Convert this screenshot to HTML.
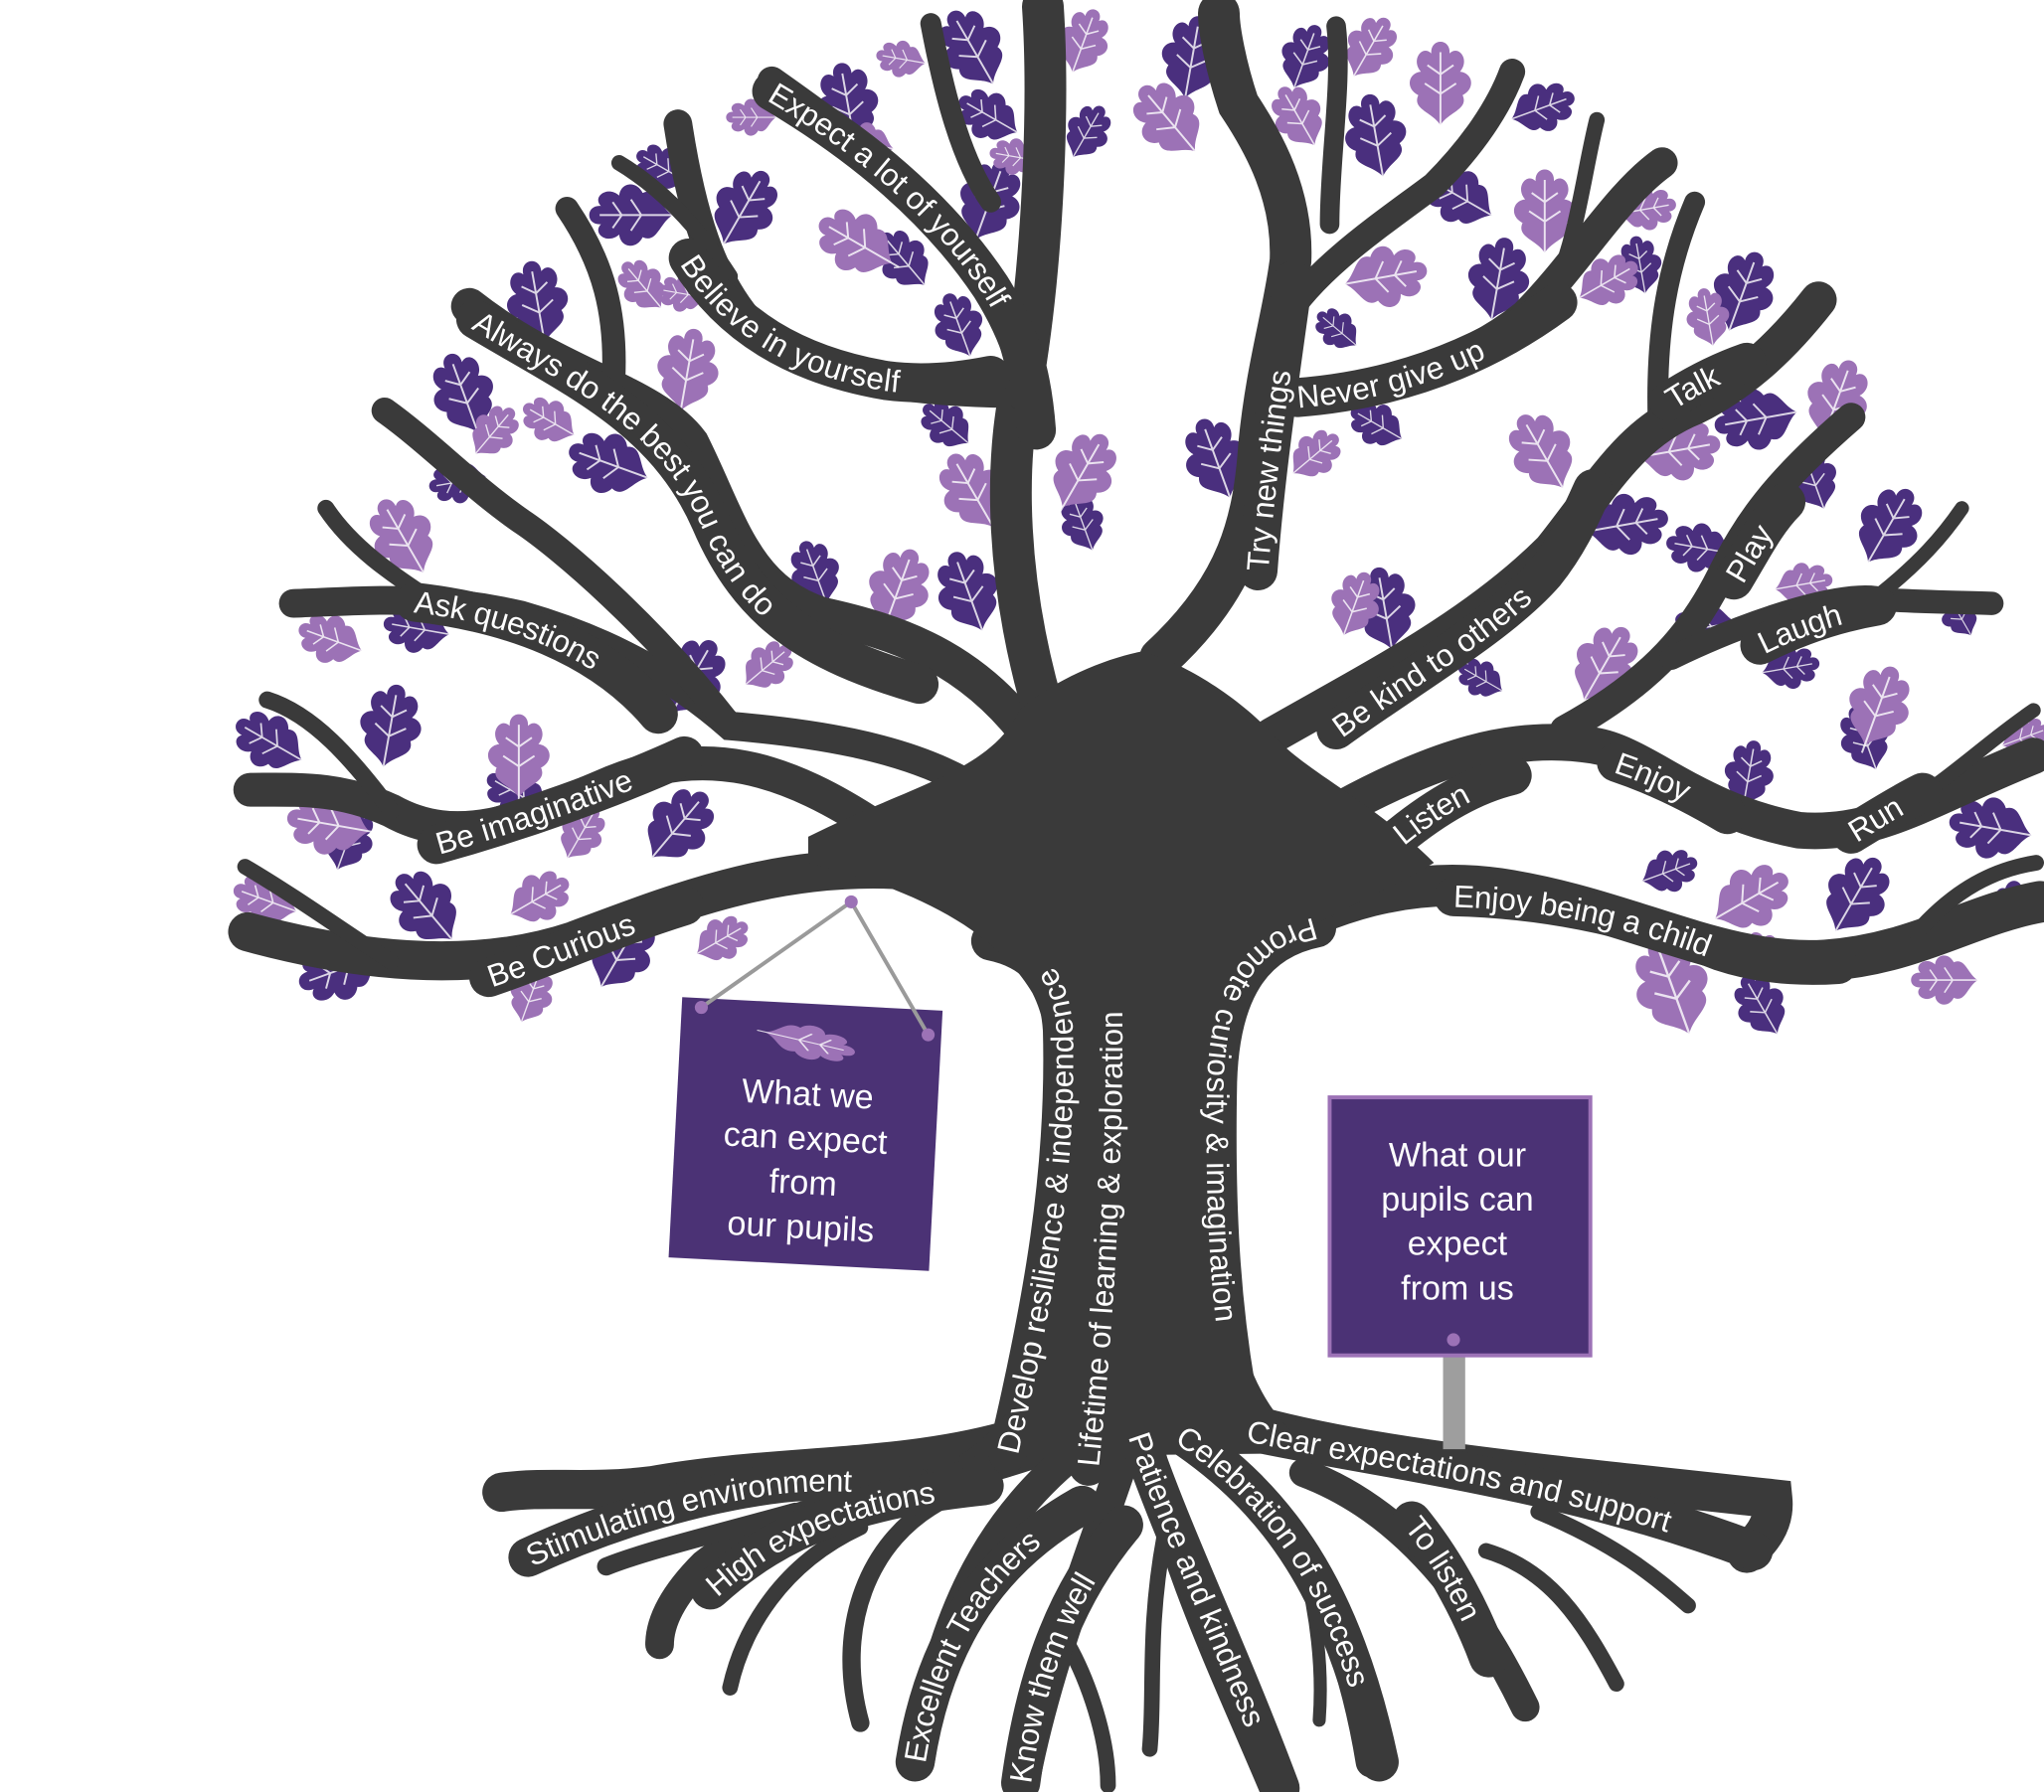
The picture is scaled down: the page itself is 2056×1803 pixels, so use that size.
<!DOCTYPE html>
<html><head><meta charset="utf-8"><style>
html,body{margin:0;padding:0;background:#fff;}
svg{display:block;}
.t{font-family:"Liberation Sans",sans-serif;font-size:24px;fill:#fff;}
.s{font-family:"Liberation Sans",sans-serif;font-size:26px;fill:#fff;text-anchor:middle;}
</style></head><body>
<svg width="2056" height="1803" viewBox="0 0 1568 1375" xmlns="http://www.w3.org/2000/svg">
<defs>
<symbol id="lf" viewBox="-30 -40 60 80" overflow="visible">
<path d="M0,34 C-6,24 -22,22 -17,11 C-27,6 -25,-6 -15,-7 C-23,-16 -14,-28 -7,-21 C-8,-33 8,-33 7,-21 C14,-28 23,-16 15,-7 C25,-6 27,6 17,11 C22,22 6,24 0,34 Z"/>
<path d="M0,40 L0,-22 M0,10 L-12,2 M0,10 L12,2 M0,-5 L-10,-12 M0,-5 L10,-12" stroke="#fff" stroke-width="1.5" fill="none" opacity="0.8"/>
</symbol>
<path id="p1" d="M375,750 C420,735 470,712 525,695"/>
<path id="p2" d="M335,648 C400,630 470,605 525,580"/>
<path id="p3" d="M318,462 C390,470 460,495 505,548"/>
<path id="p4" d="M365,245 C440,290 510,320 545,400 C575,470 620,500 705,525"/>
<path id="p5" d="M528,198 C560,250 610,280 680,292 C710,296 740,292 760,288"/>
<path id="p6" d="M592,70 C660,110 720,160 760,220 C785,260 792,290 795,330"/>
<path id="p7" d="M965,438 C970,370 980,300 992,215"/>
<path id="p8" d="M995,305 C1060,300 1130,280 1195,232"/>
<path id="p9" d="M1280,308 C1300,295 1320,285 1340,278"/>
<path id="p10" d="M1025,560 C1080,520 1150,480 1185,440 C1205,415 1215,390 1222,375"/>
<path id="p11" d="M1330,445 C1345,420 1355,400 1370,385"/>
<path id="p12" d="M1350,495 C1380,480 1410,470 1440,465"/>
<path id="p13" d="M1072,643 C1100,620 1130,602 1160,595"/>
<path id="p14" d="M1240,585 C1270,595 1300,610 1325,625"/>
<path id="p15" d="M1420,640 C1440,628 1455,618 1475,608"/>
<path id="p16" d="M1115,688 C1200,690 1270,710 1320,730 C1350,740 1380,742 1410,740"/>
<path id="p17" d="M773,1115 C800,1000 818,900 815,790 C812,745 790,728 760,722"/>
<path id="p18" d="M835,1125 C848,1000 856,850 852,725"/>
<path id="p19" d="M1010,712 C960,722 936,762 934,830 C932,930 937,1000 948,1065"/>
<path id="p20" d="M405,1195 C470,1165 540,1145 600,1138 C640,1134 670,1138 700,1140"/>
<path id="p21" d="M545,1220 C600,1170 660,1150 755,1140"/>
<path id="p22" d="M702,1352 C715,1270 750,1200 830,1155"/>
<path id="p23" d="M783,1368 C795,1280 820,1220 862,1170"/>
<path id="p24" d="M873,1100 C900,1180 940,1260 982,1372"/>
<path id="p25" d="M905,1100 C980,1150 1030,1220 1058,1352"/>
<path id="p26" d="M957,1098 C1060,1120 1200,1135 1345,1190"/>
<path id="p27" d="M1083,1167 C1110,1200 1130,1240 1142,1272"/>
</defs>
<rect width="1568" height="1375" fill="#fff"/>

<!-- Leaves behind -->
<g>
<g fill="#4a2f7e">
<use href="#lf" x="-30" y="-40" width="60" height="80" transform="translate(205,568) rotate(-60) scale(0.9)"/>
<use href="#lf" x="-30" y="-40" width="60" height="80" transform="translate(300,555) rotate(10)"/>
<use href="#lf" x="-30" y="-40" width="60" height="80" transform="translate(268,642) rotate(20) scale(0.8)"/>
<use href="#lf" x="-30" y="-40" width="60" height="80" transform="translate(395,608) rotate(-60) scale(0.8)"/>
<use href="#lf" x="-30" y="-40" width="60" height="80" transform="translate(522,632) rotate(40)"/>
<use href="#lf" x="-30" y="-40" width="60" height="80" transform="translate(258,745) rotate(-110)"/>
<use href="#lf" x="-30" y="-40" width="60" height="80" transform="translate(325,695) rotate(-40)"/>
<use href="#lf" x="-30" y="-40" width="60" height="80" transform="translate(478,728) rotate(30)"/>
<use href="#lf" x="-30" y="-40" width="60" height="80" transform="translate(318,482) rotate(-80) scale(0.8)"/>
<use href="#lf" x="-30" y="-40" width="60" height="80" transform="translate(350,370) rotate(-100) scale(0.7)"/>
<use href="#lf" x="-30" y="-40" width="60" height="80" transform="translate(355,300) rotate(-20)"/>
<use href="#lf" x="-30" y="-40" width="60" height="80" transform="translate(465,355) rotate(-70)"/>
<use href="#lf" x="-30" y="-40" width="60" height="80" transform="translate(412,230) rotate(-10)"/>
<use href="#lf" x="-30" y="-40" width="60" height="80" transform="translate(532,518) rotate(30)"/>
<use href="#lf" x="-30" y="-40" width="60" height="80" transform="translate(625,438) rotate(-20) scale(0.8)"/>
<use href="#lf" x="-30" y="-40" width="60" height="80" transform="translate(742,452) rotate(-20)"/>
<use href="#lf" x="-30" y="-40" width="60" height="80" transform="translate(830,400) rotate(-20) scale(0.7)"/>
<use href="#lf" x="-30" y="-40" width="60" height="80" transform="translate(482,165) rotate(-90)"/>
<use href="#lf" x="-30" y="-40" width="60" height="80" transform="translate(572,158) rotate(30)"/>
<use href="#lf" x="-30" y="-40" width="60" height="80" transform="translate(692,198) rotate(-40) scale(0.8)"/>
<use href="#lf" x="-30" y="-40" width="60" height="80" transform="translate(745,35) rotate(-30)"/>
<use href="#lf" x="-30" y="-40" width="60" height="80" transform="translate(757,88) rotate(-60) scale(0.8)"/>
<use href="#lf" x="-30" y="-40" width="60" height="80" transform="translate(735,248) rotate(-20) scale(0.8)"/>
<use href="#lf" x="-30" y="-40" width="60" height="80" transform="translate(725,325) rotate(-50) scale(0.7)"/>
<use href="#lf" x="-30" y="-40" width="60" height="80" transform="translate(760,152) rotate(20)"/>
<use href="#lf" x="-30" y="-40" width="60" height="80" transform="translate(835,100) rotate(30) scale(0.7)"/>
<use href="#lf" x="-30" y="-40" width="60" height="80" transform="translate(650,78) rotate(-10)"/>
<use href="#lf" x="-30" y="-40" width="60" height="80" transform="translate(507,128) rotate(-60) scale(0.7)"/>
<use href="#lf" x="-30" y="-40" width="60" height="80" transform="translate(915,42) rotate(10)"/>
<use href="#lf" x="-30" y="-40" width="60" height="80" transform="translate(1002,42) rotate(20) scale(0.8)"/>
<use href="#lf" x="-30" y="-40" width="60" height="80" transform="translate(1055,102) rotate(-10)"/>
<use href="#lf" x="-30" y="-40" width="60" height="80" transform="translate(1118,150) rotate(-60) scale(0.9)"/>
<use href="#lf" x="-30" y="-40" width="60" height="80" transform="translate(1185,82) rotate(70) scale(0.8)"/>
<use href="#lf" x="-30" y="-40" width="60" height="80" transform="translate(1150,212) rotate(10)"/>
<use href="#lf" x="-30" y="-40" width="60" height="80" transform="translate(1258,202) rotate(-10) scale(0.7)"/>
<use href="#lf" x="-30" y="-40" width="60" height="80" transform="translate(1338,222) rotate(20)"/>
<use href="#lf" x="-30" y="-40" width="60" height="80" transform="translate(932,350) rotate(-20)"/>
<use href="#lf" x="-30" y="-40" width="60" height="80" transform="translate(962,382) rotate(30) scale(0.7)"/>
<use href="#lf" x="-30" y="-40" width="60" height="80" transform="translate(1055,325) rotate(-60) scale(0.7)"/>
<use href="#lf" x="-30" y="-40" width="60" height="80" transform="translate(1025,252) rotate(-50) scale(0.6)"/>
<use href="#lf" x="-30" y="-40" width="60" height="80" transform="translate(1250,402) rotate(80)"/>
<use href="#lf" x="-30" y="-40" width="60" height="80" transform="translate(1345,322) rotate(-100)"/>
<use href="#lf" x="-30" y="-40" width="60" height="80" transform="translate(1390,365) rotate(-20) scale(0.8)"/>
<use href="#lf" x="-30" y="-40" width="60" height="80" transform="translate(1450,402) rotate(30)"/>
<use href="#lf" x="-30" y="-40" width="60" height="80" transform="translate(1302,420) rotate(-80) scale(0.8)"/>
<use href="#lf" x="-30" y="-40" width="60" height="80" transform="translate(1062,465) rotate(-10)"/>
<use href="#lf" x="-30" y="-40" width="60" height="80" transform="translate(1135,520) rotate(-60) scale(0.6)"/>
<use href="#lf" x="-30" y="-40" width="60" height="80" transform="translate(1305,482) rotate(-100) scale(0.8)"/>
<use href="#lf" x="-30" y="-40" width="60" height="80" transform="translate(1375,512) rotate(80) scale(0.7)"/>
<use href="#lf" x="-30" y="-40" width="60" height="80" transform="translate(1430,565) rotate(-20) scale(0.8)"/>
<use href="#lf" x="-30" y="-40" width="60" height="80" transform="translate(1342,592) rotate(10) scale(0.8)"/>
<use href="#lf" x="-30" y="-40" width="60" height="80" transform="translate(1525,635) rotate(-80)"/>
<use href="#lf" x="-30" y="-40" width="60" height="80" transform="translate(1425,685) rotate(30)"/>
<use href="#lf" x="-30" y="-40" width="60" height="80" transform="translate(1282,668) rotate(70) scale(0.7)"/>
<use href="#lf" x="-30" y="-40" width="60" height="80" transform="translate(1350,770) rotate(-30) scale(0.8)"/>
<use href="#lf" x="-30" y="-40" width="60" height="80" transform="translate(1548,692) rotate(80) scale(0.7)"/>
<use href="#lf" x="-30" y="-40" width="60" height="80" transform="translate(1502,470) rotate(-30) scale(0.6)"/>
</g>
<g fill="#9c72b6">
<use href="#lf" x="-30" y="-40" width="60" height="80" transform="translate(250,632) rotate(-80)"/>
<use href="#lf" x="-30" y="-40" width="60" height="80" transform="translate(398,578) rotate(0)"/>
<use href="#lf" x="-30" y="-40" width="60" height="80" transform="translate(447,638) rotate(30) scale(0.7)"/>
<use href="#lf" x="-30" y="-40" width="60" height="80" transform="translate(202,690) rotate(-70) scale(0.8)"/>
<use href="#lf" x="-30" y="-40" width="60" height="80" transform="translate(415,688) rotate(60) scale(0.8)"/>
<use href="#lf" x="-30" y="-40" width="60" height="80" transform="translate(408,762) rotate(20) scale(0.7)"/>
<use href="#lf" x="-30" y="-40" width="60" height="80" transform="translate(555,720) rotate(60) scale(0.7)"/>
<use href="#lf" x="-30" y="-40" width="60" height="80" transform="translate(252,490) rotate(-70) scale(0.8)"/>
<use href="#lf" x="-30" y="-40" width="60" height="80" transform="translate(308,410) rotate(-30)"/>
<use href="#lf" x="-30" y="-40" width="60" height="80" transform="translate(380,330) rotate(40) scale(0.7)"/>
<use href="#lf" x="-30" y="-40" width="60" height="80" transform="translate(420,322) rotate(-60) scale(0.7)"/>
<use href="#lf" x="-30" y="-40" width="60" height="80" transform="translate(528,282) rotate(10)"/>
<use href="#lf" x="-30" y="-40" width="60" height="80" transform="translate(590,510) rotate(50) scale(0.7)"/>
<use href="#lf" x="-30" y="-40" width="60" height="80" transform="translate(690,450) rotate(20)"/>
<use href="#lf" x="-30" y="-40" width="60" height="80" transform="translate(745,375) rotate(-30)"/>
<use href="#lf" x="-30" y="-40" width="60" height="80" transform="translate(832,360) rotate(30)"/>
<use href="#lf" x="-30" y="-40" width="60" height="80" transform="translate(492,218) rotate(-40) scale(0.7)"/>
<use href="#lf" x="-30" y="-40" width="60" height="80" transform="translate(522,225) rotate(-80) scale(0.6)"/>
<use href="#lf" x="-30" y="-40" width="60" height="80" transform="translate(655,185) rotate(-60)"/>
<use href="#lf" x="-30" y="-40" width="60" height="80" transform="translate(662,110) rotate(-80) scale(0.7)"/>
<use href="#lf" x="-30" y="-40" width="60" height="80" transform="translate(690,45) rotate(-80) scale(0.6)"/>
<use href="#lf" x="-30" y="-40" width="60" height="80" transform="translate(777,120) rotate(-80) scale(0.6)"/>
<use href="#lf" x="-30" y="-40" width="60" height="80" transform="translate(832,30) rotate(20) scale(0.8)"/>
<use href="#lf" x="-30" y="-40" width="60" height="80" transform="translate(575,90) rotate(-90) scale(0.6)"/>
<use href="#lf" x="-30" y="-40" width="60" height="80" transform="translate(895,90) rotate(-40)"/>
<use href="#lf" x="-30" y="-40" width="60" height="80" transform="translate(995,88) rotate(-30) scale(0.8)"/>
<use href="#lf" x="-30" y="-40" width="60" height="80" transform="translate(1052,35) rotate(30) scale(0.8)"/>
<use href="#lf" x="-30" y="-40" width="60" height="80" transform="translate(1105,62) rotate(0)"/>
<use href="#lf" x="-30" y="-40" width="60" height="80" transform="translate(1185,160) rotate(0)"/>
<use href="#lf" x="-30" y="-40" width="60" height="80" transform="translate(1235,215) rotate(60) scale(0.8)"/>
<use href="#lf" x="-30" y="-40" width="60" height="80" transform="translate(1265,160) rotate(80) scale(0.7)"/>
<use href="#lf" x="-30" y="-40" width="60" height="80" transform="translate(1310,242) rotate(-10) scale(0.7)"/>
<use href="#lf" x="-30" y="-40" width="60" height="80" transform="translate(1065,212) rotate(80)"/>
<use href="#lf" x="-30" y="-40" width="60" height="80" transform="translate(1010,348) rotate(50) scale(0.7)"/>
<use href="#lf" x="-30" y="-40" width="60" height="80" transform="translate(1182,345) rotate(-30)"/>
<use href="#lf" x="-30" y="-40" width="60" height="80" transform="translate(1290,345) rotate(80)"/>
<use href="#lf" x="-30" y="-40" width="60" height="80" transform="translate(1410,305) rotate(20)"/>
<use href="#lf" x="-30" y="-40" width="60" height="80" transform="translate(1385,448) rotate(80) scale(0.7)"/>
<use href="#lf" x="-30" y="-40" width="60" height="80" transform="translate(1040,462) rotate(20) scale(0.8)"/>
<use href="#lf" x="-30" y="-40" width="60" height="80" transform="translate(1232,508) rotate(30)"/>
<use href="#lf" x="-30" y="-40" width="60" height="80" transform="translate(1442,540) rotate(20)"/>
<use href="#lf" x="-30" y="-40" width="60" height="80" transform="translate(1555,565) rotate(70) scale(0.6)"/>
<use href="#lf" x="-30" y="-40" width="60" height="80" transform="translate(1345,688) rotate(60)"/>
<use href="#lf" x="-30" y="-40" width="60" height="80" transform="translate(1282,755) rotate(-20) scale(1.2)"/>
<use href="#lf" x="-30" y="-40" width="60" height="80" transform="translate(1352,730) rotate(-60) scale(0.6)"/>
<use href="#lf" x="-30" y="-40" width="60" height="80" transform="translate(1490,752) rotate(-90) scale(0.8)"/>
</g>
</g>

<!-- Tree -->
<g fill="none" stroke="#3a3a3a" stroke-linecap="round">
<path d="M700,668 C600,660 520,692 440,722 C380,742 300,745 190,715" stroke-width="30"/>
<path d="M300,738 C260,712 230,690 188,665" stroke-width="12"/>
<path d="M680,640 C600,585 540,572 470,600 C400,630 350,650 300,622 C260,604 230,606 192,606" stroke-width="26"/>
<path d="M300,622 C270,582 240,548 205,537" stroke-width="13"/>
<path d="M740,600 C690,572 620,562 560,557 C520,522 470,492 400,472 C330,456 280,461 225,463" stroke-width="22"/>
<path d="M330,460 C300,440 270,420 250,390" stroke-width="13"/>
<path d="M560,557 C500,480 430,420 400,400 C360,372 330,340 295,315" stroke-width="20"/>
<path d="M790,565 C745,505 690,485 630,472 C570,452 560,400 530,340 C500,300 430,290 360,235" stroke-width="28"/>
<path d="M470,302 C475,240 462,200 435,160" stroke-width="18"/>
<path d="M805,560 C770,450 770,350 785,290 C800,200 805,80 800,5" stroke-width="32"/>
<path d="M785,302 C700,302 620,292 580,252 C545,215 530,160 520,95" stroke-width="22"/>
<path d="M560,212 C530,165 500,140 475,125" stroke-width="12"/>
<path d="M592,62 C660,110 720,155 760,220 C780,260 785,290 785,305" stroke-width="22"/>
<path d="M760,155 C735,120 722,60 714,18" stroke-width="16"/>
<path d="M890,505 C950,450 962,400 966,340 C972,280 985,240 990,200 C992,150 970,110 950,80 C940,50 935,22 935,10" stroke-width="32"/>
<path d="M985,245 C1010,205 1060,172 1100,142 C1130,112 1150,82 1160,55" stroke-width="20"/>
<path d="M1020,172 C1020,122 1030,62 1025,20" stroke-width="15"/>
<path d="M985,305 C1050,302 1120,282 1170,242 C1210,202 1240,150 1275,125" stroke-width="24"/>
<path d="M1192,222 C1210,182 1215,132 1225,92" stroke-width="12"/>
<path d="M975,565 C1050,522 1130,482 1190,422 C1230,372 1250,332 1300,312 C1340,292 1370,262 1395,230" stroke-width="28"/>
<path d="M1272,322 C1270,252 1280,202 1300,155" stroke-width="16"/>
<path d="M1200,560 C1270,522 1300,482 1320,442 C1340,402 1360,372 1420,320" stroke-width="22"/>
<path d="M1282,505 C1350,472 1420,452 1445,460 C1475,462 1500,462 1528,463" stroke-width="18"/>
<path d="M1442,456 C1472,432 1490,412 1505,390" stroke-width="11"/>
<path d="M1030,620 C1100,582 1160,562 1222,572 C1262,578 1300,622 1380,637 C1440,642 1480,612 1560,580" stroke-width="28"/>
<path d="M1450,624 C1490,604 1520,572 1560,545" stroke-width="11"/>
<path d="M960,725 C1020,692 1080,672 1150,682 C1250,697 1320,742 1400,737 C1470,732 1510,702 1565,692" stroke-width="32"/>
<path d="M1470,716 C1500,682 1530,667 1562,662" stroke-width="12"/>
<path d="M790,1100 C700,1130 600,1122 500,1140 C450,1146 420,1140 385,1145" stroke-width="30"/>
<path d="M810,1110 C700,1150 600,1152 540,1200 C512,1228 506,1248 506,1262" stroke-width="22"/>
<path d="M610,1160 C545,1178 495,1190 465,1202" stroke-width="14"/>
<path d="M830,1110 C765,1160 722,1232 705,1352" stroke-width="24"/>
<path d="M725,1150 C665,1180 640,1250 660,1322" stroke-width="14"/>
<path d="M660,1172 C600,1200 570,1250 560,1295" stroke-width="12"/>
<path d="M865,1110 C835,1200 802,1280 785,1370" stroke-width="24"/>
<path d="M812,1250 C832,1280 850,1330 850,1370" stroke-width="12"/>
<path d="M880,1105 C900,1200 940,1282 978,1372" stroke-width="24"/>
<path d="M893,1180 C880,1250 886,1300 882,1342" stroke-width="12"/>
<path d="M910,1100 C985,1150 1032,1230 1052,1352" stroke-width="24"/>
<path d="M950,1090 C1050,1120 1200,1132 1360,1150 C1362,1170 1350,1182 1340,1192" stroke-width="30"/>
<path d="M1000,1130 C1080,1160 1132,1232 1170,1310" stroke-width="22"/>
<path d="M1140,1190 C1190,1205 1215,1245 1240,1292" stroke-width="12"/>
<path d="M1180,1160 C1240,1185 1270,1210 1295,1232" stroke-width="12"/>
<path d="M1000,1200 C1010,1240 1015,1280 1012,1320" stroke-width="10"/>
<!-- backing strokes under every label -->
<g stroke-width="30">
<use href="#p1"/><use href="#p2"/><use href="#p3"/><use href="#p4"/><use href="#p5"/>
<use href="#p6"/><use href="#p7"/><use href="#p8"/><use href="#p9"/><use href="#p10"/>
<use href="#p11"/><use href="#p12"/><use href="#p13"/><use href="#p14"/><use href="#p15"/>
<use href="#p16"/><use href="#p17"/><use href="#p18"/><use href="#p19"/><use href="#p20"/>
<use href="#p21"/><use href="#p22"/><use href="#p23"/><use href="#p24"/><use href="#p25"/>
<use href="#p26"/><use href="#p27"/>
</g>
</g>
<path fill="#3a3a3a" d="M620,642 C700,602 760,592 782,545 C810,520 850,505 875,500 C900,505 945,530 975,562 C1000,592 1050,612 1100,662 C1050,692 990,712 962,742 C937,782 937,862 942,952 C947,1032 962,1080 1010,1115 L735,1118 C790,1082 806,1032 806,962 C806,862 812,802 792,762 C762,712 700,682 620,662 Z"/>

<g class="t">
<text dy="8"><textPath href="#p1">Be Curious</textPath></text>
<text dy="8"><textPath href="#p2">Be imaginative</textPath></text>
<text dy="8"><textPath href="#p3">Ask questions</textPath></text>
<text dy="8"><textPath href="#p4">Always do the best you can do</textPath></text>
<text dy="8"><textPath href="#p5">Believe in yourself</textPath></text>
<text dy="8"><textPath href="#p6">Expect a lot of yourself</textPath></text>
<text dy="8"><textPath href="#p7">Try new things</textPath></text>
<text dy="8"><textPath href="#p8">Never  give up</textPath></text>
<text dy="8"><textPath href="#p9">Talk</textPath></text>
<text dy="8"><textPath href="#p10">Be kind to others</textPath></text>
<text dy="8"><textPath href="#p11">Play</textPath></text>
<text dy="8"><textPath href="#p12">Laugh</textPath></text>
<text dy="8"><textPath href="#p13">Listen</textPath></text>
<text dy="8"><textPath href="#p14">Enjoy</textPath></text>
<text dy="8"><textPath href="#p15">Run</textPath></text>
<text dy="8"><textPath href="#p16">Enjoy  being  a  child</textPath></text>
<text dy="8"><textPath href="#p17">Develop resilience &amp; independence</textPath></text>
<text dy="8"><textPath href="#p18">Lifetime of learning &amp; exploration</textPath></text>
<text dy="8"><textPath href="#p19">Promote curiosity &amp; imagination</textPath></text>
<text dy="8"><textPath href="#p20">Stimulating environment</textPath></text>
<text dy="8"><textPath href="#p21">High expectations</textPath></text>
<text dy="8"><textPath href="#p22">Excellent Teachers</textPath></text>
<text dy="8"><textPath href="#p23">Know them well</textPath></text>
<text dy="8"><textPath href="#p24">Patience and kindness</textPath></text>
<text dy="8"><textPath href="#p25">Celebration of success</textPath></text>
<text dy="8"><textPath href="#p26">Clear expectations and support</textPath></text>
<text dy="8"><textPath href="#p27">To listen</textPath></text>
</g>

<g transform="rotate(3 615 870)">
<rect x="518" y="770" width="200" height="200" fill="#4b3275"/>
<use href="#lf" x="-30" y="-40" width="60" height="80" fill="#9c72b6" transform="translate(620,800) rotate(100) scale(0.55,1.1)"/>
<text class="s" x="618" y="848">What we</text>
<text class="s" x="618" y="882">can expect</text>
<text class="s" x="618" y="916">from</text>
<text class="s" x="618" y="950">our pupils</text>
</g>
<path d="M538,773 L653,692 L712,794" fill="none" stroke="#9a9a9a" stroke-width="3"/>
<circle cx="653" cy="692" r="5" fill="#9c72b6"/>
<circle cx="538" cy="773" r="5" fill="#9c72b6"/>
<circle cx="712" cy="794" r="5" fill="#9c72b6"/>

<rect x="1107" y="1040" width="17" height="72" fill="#9e9e9e"/>
<rect x="1020" y="842" width="200" height="198" fill="#4b3275" stroke="#9c72b6" stroke-width="3"/>
<circle cx="1115" cy="1028" r="5" fill="#9c72b6"/>
<text class="s" x="1118" y="895">What our</text>
<text class="s" x="1118" y="929">pupils can</text>
<text class="s" x="1118" y="963">expect</text>
<text class="s" x="1118" y="997">from us</text>
</svg>
</body></html>
